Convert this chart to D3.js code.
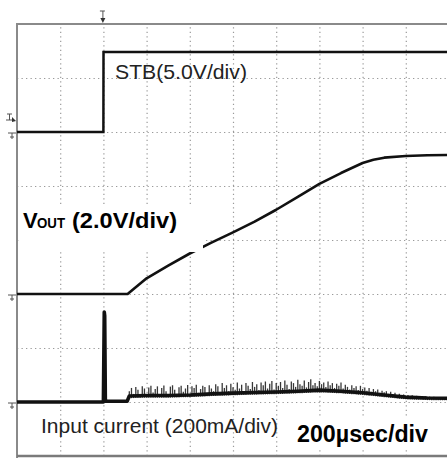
<!DOCTYPE html>
<html><head><meta charset="utf-8">
<script src="https://cdn.jsdelivr.net/npm/d3@7"></script>
<style>html,body{margin:0;padding:0;background:#fff;} svg{display:block;}</style>
</head><body>
<svg id="c" width="447" height="458"></svg>
<script>
// ---- data (time in µs, 200 µs/div) ----
const gridTimes = [200, 400, 600, 800, 1000, 1200, 1400, 1600, 1800];
const gridDivs = [1, 2, 3, 4, 5, 6, 7];

// STB channel, 5 V/div, ground at division 2 from top
const stbGround = 2, stbPerDiv = 5;
const stbTime  = [0, 400, 400.5, 2000];
const stbVolts = [0, 0, 7.4, 7.4];

// VOUT channel, 2 V/div, ground at division 5
const voutGround = 5, voutPerDiv = 2;
const voutTime  = [0, 512, 600, 700, 800, 900, 1000, 1100, 1200, 1300, 1400, 1500, 1600, 1650, 1700, 1800, 1900, 2000];
const voutVolts = [0, 0, 0.58, 1.05, 1.5, 1.9, 2.28, 2.68, 3.12, 3.6, 4.08, 4.48, 4.85, 4.97, 5.05, 5.11, 5.14, 5.15];

// Input current channel, 200 mA/div, ground at division 7
const iinGround = 7, iinPerDiv = 200;
const iinTime = [0, 100, 200, 300, 400, 404, 406, 409, 412, 450, 510, 520, 600, 700, 800, 900, 1000, 1100, 1200, 1300, 1400, 1500, 1600, 1700, 1800, 1900, 2000];
const iinMean = [0, 0, 0, 0, 0, 333, 320, 10, 3, 3, 3, 22, 24, 24, 26, 30, 33, 35, 37, 40, 44, 40, 34, 26, 18, 15, 14];
const iinNoiseStart = 520, iinNoiseStep = 10;
const iinNoise = [
  40, 52, 30, 56, 45, 26, 58, 50, 20, 54,
  60, 35, 48, 58, 28, 52, 61, 40, 24, 57,
  62, 45, 30, 55, 60, 38, 50, 63, 27, 58,
  52, 64, 34, 48, 60, 56, 30, 62, 50, 40,
  66, 58, 36, 70, 52, 62, 40, 68, 55, 45,
  72, 50, 64, 38, 70, 60, 48, 74, 56, 66,
  44, 72, 62, 76, 50, 68, 78, 46, 70, 60,
  74, 52, 80, 64, 48, 76, 70, 56, 82, 66,
  60, 80, 54, 74, 84, 62, 70, 58, 78, 66,
  72, 56, 76, 62, 70, 52, 68, 60, 72, 50,
  64, 56, 46, 62, 52, 58, 44, 60, 48, 54,
  42, 52, 38, 48, 40, 46, 34, 42, 36, 40,
  30, 38, 28, 34, 26, 31, 24, 28, 22, 26,
  20, 25, 18, 23, 19, 22, 17, 21, 16, 20,
  15, 19, 14, 18, 15, 17, 14, 16, 15
];

const labelStb = "STB(5.0V/div)";
const labelVoutMain = "V", labelVoutSub = "OUT", labelVoutRest = "(2.0V/div)";
const labelIin = "Input current (200mA/div)";
const labelTime = "200µsec/div";

// ---- scales ----
const svg = d3.select("#c");
const x = d3.scaleLinear().domain([0, 2000]).range([17, 449]);
const yDiv = d3.scaleLinear().domain([0, 8]).range([24, 456]);
const chanY = (g, per) => v => yDiv(g - v / per);
const yStb = chanY(stbGround, stbPerDiv);
const yVout = chanY(voutGround, voutPerDiv);
const yIin = chanY(iinGround, iinPerDiv);
const meanAt = d3.scaleLinear().domain(iinTime).range(iinMean);

svg.append("rect").attr("width", 447).attr("height", 458).attr("fill", "#fff");

// ---- grid via axes ----
const gx = svg.append("g").attr("transform", `translate(0,${yDiv(8)})`)
  .call(d3.axisBottom(x).tickValues(gridTimes).tickSize(-(yDiv(8) - yDiv(0))).tickFormat(""));
const gy = svg.append("g").attr("transform", `translate(${x(0)},0)`)
  .call(d3.axisLeft(yDiv).tickValues(gridDivs).tickSize(-(x(2000) - x(0))).tickFormat(""));
[gx, gy].forEach(g => {
  g.select(".domain").remove();
  g.selectAll(".tick line").attr("stroke", "#9a9a9a").attr("stroke-width", 1.2)
    .attr("stroke-dasharray", "1.3,3.2");
});

// ---- frame ----
svg.append("line").attr("x1", x(0)).attr("x2", 447).attr("y1", yDiv(0)).attr("y2", yDiv(0))
  .attr("stroke", "#8a8a8a").attr("stroke-width", 2);
svg.append("line").attr("x1", x(0)).attr("x2", x(0)).attr("y1", yDiv(0) - 1).attr("y2", 458)
  .attr("stroke", "#8a8a8a").attr("stroke-width", 2);
svg.append("line").attr("x1", x(0)).attr("x2", 447).attr("y1", yDiv(8)).attr("y2", yDiv(8))
  .attr("stroke", "#7a7a7a").attr("stroke-width", 2.5);

// ---- traces ----
const line = (ys) => d3.line().x(d => x(d[0])).y(d => ys(d[1]));
const zip = (a, b) => a.map((t, i) => [t, b[i]]);

// current noise spikes (rules from just below the mean level to each sample)
const noiseT = iinNoise.map((_, i) => iinNoiseStart + i * iinNoiseStep);
svg.append("g").selectAll("line").data(zip(noiseT, iinNoise)).join("line")
  .attr("x1", d => x(d[0])).attr("x2", d => x(d[0]))
  .attr("y1", d => yIin(meanAt(d[0]) - 8)).attr("y2", d => yIin(d[1]))
  .attr("stroke", "#222").attr("stroke-width", 1.3).attr("stroke-opacity", 0.9);
svg.append("path").datum(zip(iinTime, iinMean)).attr("d", line(yIin))
  .attr("fill", "none").attr("stroke", "#111").attr("stroke-width", 3.6).attr("stroke-linejoin", "round");

svg.append("path").datum(zip(stbTime, stbVolts)).attr("d", line(yStb))
  .attr("fill", "none").attr("stroke", "#111").attr("stroke-width", 2.5);
svg.append("path").datum(zip(voutTime, voutVolts)).attr("d", line(yVout))
  .attr("fill", "none").attr("stroke", "#111").attr("stroke-width", 2.6).attr("stroke-linejoin", "round");

// ---- label boxes ----
svg.append("rect").attr("x", 19).attr("y", 206).attr("width", 184).attr("height", 46).attr("fill", "#fff");
svg.append("rect").attr("x", 295).attr("y", 417).attr("width", 141).attr("height", 32).attr("fill", "#fff");

// ---- texts ----
const reg = "'Liberation Sans', Arial, sans-serif";
svg.append("text").attr("x", 115).attr("y", 79).attr("font-family", reg).attr("font-size", 21)
  .attr("fill", "#222").attr("textLength", 132).attr("lengthAdjust", "spacingAndGlyphs").text(labelStb);
svg.append("text").attr("x", 41).attr("y", 433).attr("font-family", reg).attr("font-size", 21)
  .attr("fill", "#222").attr("textLength", 237).attr("lengthAdjust", "spacingAndGlyphs").text(labelIin);
const tv = svg.append("g").attr("font-family", reg).attr("font-weight", "bold").attr("fill", "#000");
tv.append("text").attr("x", 23).attr("y", 228).attr("font-size", 22).text(labelVoutMain);
tv.append("text").attr("x", 37).attr("y", 228).attr("font-size", 15).attr("textLength", 28)
  .attr("lengthAdjust", "spacingAndGlyphs").text(labelVoutSub);
tv.append("text").attr("x", 72).attr("y", 228).attr("font-size", 22).attr("textLength", 105)
  .attr("lengthAdjust", "spacingAndGlyphs").text(labelVoutRest);
svg.append("text").attr("x", 297).attr("y", 442).attr("font-family", reg).attr("font-weight", "bold")
  .attr("font-size", 23).attr("fill", "#000").attr("textLength", 131).attr("lengthAdjust", "spacingAndGlyphs").text(labelTime);

// ---- scope markers ----
const mk = svg.append("g").attr("stroke", "#555").attr("fill", "none").attr("stroke-width", 1);
const tx = x(400) - 0.5;
mk.append("path").attr("d", `M${tx - 3},11 H${tx + 2} M${tx},11 V19`);
svg.append("path").attr("d", `M${tx - 2.5},18 L${tx + 2.5},18 L${tx},23 Z`).attr("fill", "#333");
mk.append("path").attr("d", `M7,114 H12 M9.5,114 V120 M6,120 H13`);
svg.append("path").attr("d", `M12,117 L16,121 L12,122 Z`).attr("fill", "#333");
[yStb(0), yVout(0), yIin(0)].forEach(gy0 => {
  mk.append("path").attr("d", `M8,${gy0 + 1} H16 M12,${gy0 + 1} V${gy0 + 7} M10,${gy0 + 5} H14`);
});
</script>
</body></html>
